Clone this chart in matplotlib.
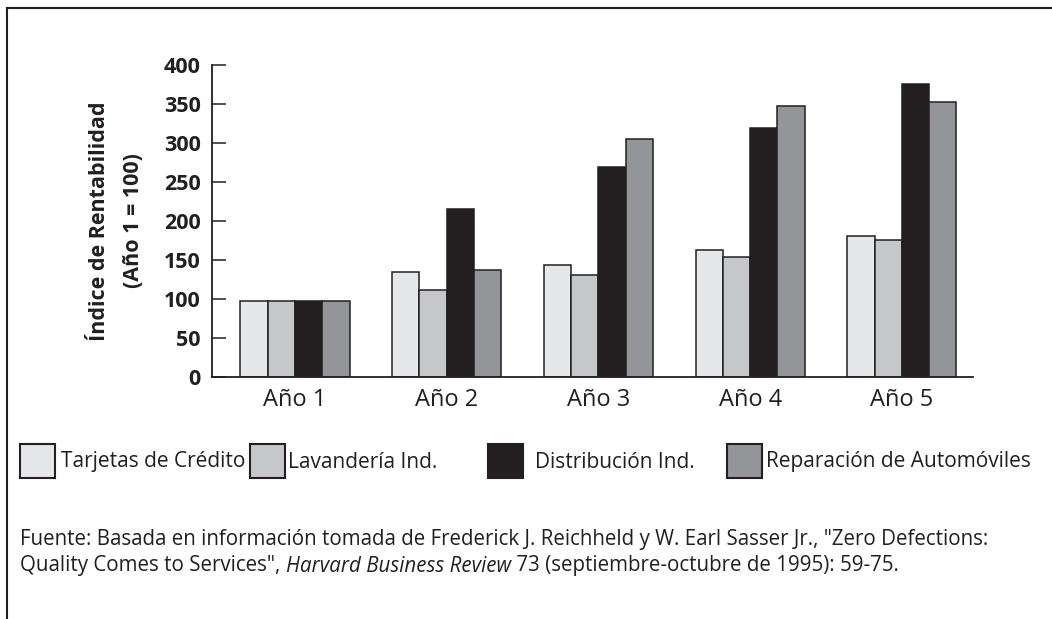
import numpy as np
import matplotlib.pyplot as plt
from matplotlib.patches import Rectangle
from matplotlib.lines import Line2D

# datos
years = ["Año 1", "Año 2", "Año 3", "Año 4", "Año 5"]
series_names = ["Tarjetas de Crédito", "Lavandería Ind.", "Distribución Ind.",
                "Reparación de Automóviles"]
tarjetas = [97, 134, 143, 163, 181]
lavanderia = [97, 111, 130, 154, 176]
distribucion = [97, 215, 269, 319, 375]
reparacion = [97, 137, 305, 348, 352]
y_ticks = [0, 50, 100, 150, 200, 250, 300, 350, 400]

colors = ["#e6e7e8", "#c6c7c8", "#231f20", "#939598"]
edge = "#231f20"

main_font = ["Open Sans", "DejaVu Sans"]
cond_font = ["Open Sans", "DejaVu Sans"]

fig = plt.figure(figsize=(10.52, 6.19), dpi=100)
ax = fig.add_axes([0.2012, 0.3914, 0.7238, 0.5036])

x = np.arange(len(years))
w = 0.18
values = [tarjetas, lavanderia, distribucion, reparacion]
for i, vals in enumerate(values):
    ax.bar(x + (i - 1.5) * w, vals, width=w, color=colors[i],
           edgecolor=edge, linewidth=1.1)

ax.set_xlim(-0.55, 4.47)
ax.set_ylim(0, 400)
ax.set_yticks(y_ticks)
ax.set_xticks(x)
ax.set_xticklabels(years, fontfamily=main_font, fontsize=17, color="#231f20")
for lab in ax.get_yticklabels():
    lab.set_fontfamily(main_font)
    lab.set_fontsize(15.5)
    lab.set_fontweight("bold")
    lab.set_color("#231f20")
ax.tick_params(axis="y", direction="in", length=10, width=1.1, pad=8, color=edge)
ax.tick_params(axis="x", length=0, pad=8)
for s in ["top", "right"]:
    ax.spines[s].set_visible(False)
for s in ["left", "bottom"]:
    ax.spines[s].set_linewidth(1.3)
    ax.spines[s].set_color(edge)

fig.text(0.095, 0.643, "Índice de Rentabilidad", rotation=90, ha="center",
         va="center", fontsize=15.5, fontweight="bold", fontfamily=main_font,
         color="#231f20")
fig.text(0.127, 0.643, "(Año 1 = 100)", rotation=90, ha="center",
         va="center", fontsize=15.5, fontweight="bold", fontfamily=main_font,
         color="#231f20")

# leyenda a mano
leg_x = [20, 250, 488, 727]
text_x = [61, 288, 535, 766]
for i in range(4):
    fig.patches.append(Rectangle((leg_x[i] / 1052, 1 - 478 / 619), 35 / 1052, 34 / 619,
                                 transform=fig.transFigure, facecolor=colors[i],
                                 edgecolor=edge, linewidth=1.5))
    fig.text(text_x[i] / 1052, 1 - 462 / 619, series_names[i], ha="left",
             va="center", fontsize=15, fontfamily=cond_font, color="#231f20")

# fuente
fs_src = 14.8
fig.text(20 / 1052, 1 - 539 / 619,
         "Fuente: Basada en información tomada de Frederick J. Reichheld y W. Earl "
         "Sasser Jr., \"Zero Defections:",
         ha="left", va="center", fontsize=fs_src, fontfamily=cond_font, color="#231f20")
t = fig.text(20 / 1052, 1 - 566 / 619, "Quality Comes to Services\", ",
             ha="left", va="center", fontsize=fs_src, fontfamily=cond_font, color="#231f20")
fig.canvas.draw()
bb = t.get_window_extent()
t2 = fig.text(bb.x1 / 1052, 1 - 566 / 619, "Harvard Business Review",
              ha="left", va="center", fontsize=fs_src, fontfamily=cond_font,
              style="italic", color="#231f20")
bb2 = t2.get_window_extent()
fig.text(bb2.x1 / 1052, 1 - 566 / 619, " 73 (septiembre-octubre de 1995): 59-75.",
         ha="left", va="center", fontsize=fs_src, fontfamily=cond_font, color="#231f20")

# marco
fig.add_artist(Line2D([7 / 1052, 7 / 1052], [0, 1 - 8 / 619], color="#231f20",
                      linewidth=1.5, transform=fig.transFigure))
fig.add_artist(Line2D([7 / 1052, 1], [1 - 8 / 619, 1 - 8 / 619], color="#231f20",
                      linewidth=1.5, transform=fig.transFigure))

fig.savefig("out.png", dpi=100)
